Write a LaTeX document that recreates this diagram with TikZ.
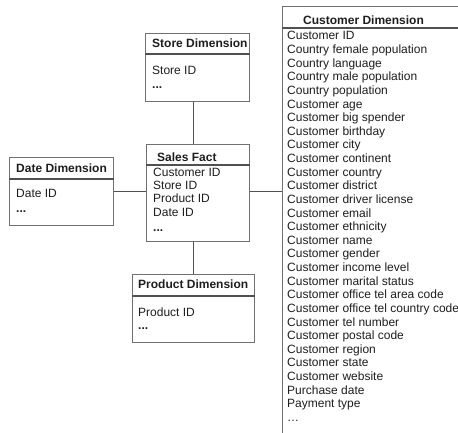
\documentclass[tikz,border=0pt]{standalone}
\usepackage{fontspec}
\setmainfont{Liberation Sans}
\usetikzlibrary{calc}
\definecolor{boxgray}{HTML}{707070}
\definecolor{linegray}{HTML}{505050}
\definecolor{ink}{HTML}{1E1E1E}
\begin{document}
\begin{tikzpicture}[x=1pt,y=-1pt,
  box/.style={draw=boxgray, line width=0.9pt, rectangle, inner sep=0pt, anchor=north west},
  rule/.style={draw=linegray, line width=1.1pt},
  link/.style={draw=linegray, line width=1pt},
  title/.style={font=\fontsize{12}{13.6}\selectfont\bfseries, text=ink, anchor=base west, inner sep=0pt},
  field/.style={font=\fontsize{12}{13.6}\selectfont, text=ink, anchor=base west, inner sep=0pt},
  more/.style={font=\fontsize{12}{13.6}\selectfont\bfseries, text=ink, anchor=base west, inner sep=0pt}]
\clip (0,0) rectangle (458,433);
\fill[white] (0,0) rectangle (458,433);

% Store dimension
\node[box, minimum width=104pt, minimum height=68pt] (store) at (145,33) {};
\draw[rule] ($(store.north west)+(0,21)$) -- ($(store.north east)+(0,21)$);
\node[title] (storeT) at (152,48) {Store Dimension};
\node[field] (store1) at (152,75) {Store ID};
\node[more] (store2) at (152,89) {...};

% Sales fact
\node[box, minimum width=103pt, minimum height=97pt] (fact) at (146,144) {};
\draw[rule] ($(fact.north west)+(0,21)$) -- ($(fact.north east)+(0,21)$);
\node[title] (factT) at (157,162) {Sales Fact};
\node[field] (fact1) at (153,176) {Customer ID};
\node[field] (fact2) at (153,189.5) {Store ID};
\node[field] (fact3) at (153,203) {Product ID};
\node[field] (fact4) at (153,216.5) {Date ID};
\node[more] (fact5) at (153,231) {...};

% Date dimension
\node[box, minimum width=104pt, minimum height=68pt] (date) at (9,157) {};
\draw[rule] ($(date.north west)+(0,22)$) -- ($(date.north east)+(0,22)$);
\node[title] (dateT) at (16,172) {Date Dimension};
\node[field] (date1) at (16,197) {Date ID};
\node[more] (date2) at (16,212) {...};

% Product dimension
\node[box, minimum width=122pt, minimum height=68pt] (product) at (132,274) {};
\draw[rule] ($(product.north west)+(0,22)$) -- ($(product.north east)+(0,22)$);
\node[title] (productT) at (138,288) {Product Dimension};
\node[field] (product1) at (138,316) {Product ID};
\node[more] (product2) at (138,329.5) {...};

% Customer dimension (runs past the right and bottom edges)
\node[box, minimum width=220pt, minimum height=460pt] (cust) at (282,6) {};
\draw[rule] ($(cust.north west)+(0,22)$) -- ($(cust.north east)+(0,22)$);
\node[title] (custT) at (303,25) {Customer Dimension};
\foreach \t [count=\i from 0] in {Customer ID, Country female population,
  Country language, Country male population, Country population,
  Customer age, Customer big spender, Customer birthday, Customer city,
  Customer continent, Customer country, Customer district,
  Customer driver license, Customer email, Customer ethnicity,
  Customer name, Customer gender, Customer income level,
  Customer marital status, Customer office tel area code,
  Customer office tel country code, Customer tel number,
  Customer postal code, Customer region, Customer state,
  Customer website, Purchase date, Payment type, …}
  \node[field] (cust\i) at (287,{40+13.62*\i}) {\t};

% Connectors
\draw[link] (store.south -| product.north) -- (fact.north -| product.north);
\draw[link] (fact.south -| product.north) -- (product.north);
\draw[link] (date.east) -- (date.east -| fact.west);
\draw[link] (fact.east |- date.east) -- (date.east -| cust.west);
\end{tikzpicture}
\end{document}
